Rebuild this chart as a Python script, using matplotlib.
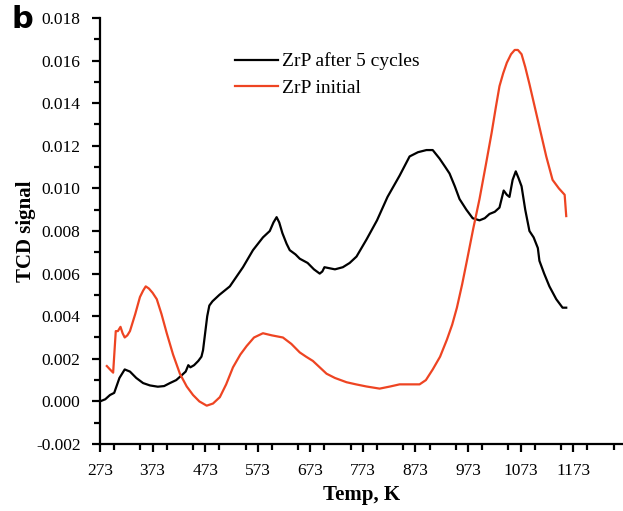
import matplotlib.pyplot as plt
from matplotlib.ticker import MultipleLocator

# TPD traces, temperature in K
temp_cycled = [273, 283, 292, 300, 310, 320, 330, 342, 355, 368, 383, 395, 406, 418, 429, 436,
               441, 445, 452, 460, 466, 469, 472, 477, 481, 487, 500, 520, 545, 564, 583, 596,
               603, 609, 614, 620, 628, 634, 645, 653, 668, 680, 691, 696, 700, 720, 735, 748,
               761, 780, 800, 820, 843, 862, 878, 894, 906, 919, 930, 938, 948, 957, 970, 982,
               995, 1005, 1014, 1024, 1033, 1041, 1047, 1052, 1058, 1064, 1069, 1075, 1082,
               1090, 1098, 1106, 1109, 1118, 1128, 1141, 1153, 1160]
tcd_cycled = [0.0000, 0.0001, 0.0003, 0.0004, 0.0011, 0.0015, 0.0014, 0.0011, 0.00086, 0.00075,
              0.00069, 0.00072, 0.00086, 0.0010, 0.00124, 0.0014, 0.0017, 0.0016, 0.0017,
              0.0019, 0.0021, 0.0024, 0.0030, 0.0040, 0.0045, 0.0047, 0.0050, 0.0054, 0.0063,
              0.0071, 0.0077, 0.0080, 0.0084, 0.00865, 0.0084, 0.0079, 0.0074, 0.0071, 0.0069,
              0.0067, 0.0065, 0.0062, 0.0060, 0.0061, 0.0063, 0.0062, 0.0063, 0.0065, 0.0068,
              0.0076, 0.0085, 0.0096, 0.0106, 0.0115, 0.0117, 0.0118, 0.0118, 0.0114, 0.0110,
              0.0107, 0.0101, 0.0095, 0.0090, 0.0086, 0.0085, 0.0086, 0.0088, 0.0089, 0.0091,
              0.0099, 0.0097, 0.0096, 0.0104, 0.0108, 0.0105, 0.0101, 0.0090, 0.0080, 0.0077,
              0.0072, 0.0066, 0.0060, 0.0054, 0.0048, 0.0044, 0.0044]

temp_initial = [286, 292, 298, 303, 307, 312, 316, 320, 325, 330, 340, 349, 355, 360, 366, 373,
                381, 390, 400, 412, 425, 438, 450, 462, 476, 488, 501, 513, 526, 540, 552, 566,
                583, 600, 621, 637, 653, 665, 678, 691, 704, 720, 742, 760, 780, 805, 825, 843,
                862, 881, 893, 906, 920, 933, 943, 952, 962, 971, 983, 995, 1007, 1018, 1026,
                1033, 1040, 1047, 1055, 1062, 1068, 1075, 1082, 1090, 1106, 1122, 1134, 1146,
                1157, 1160]
tcd_initial = [0.00166, 0.0015, 0.00135, 0.0033, 0.0033, 0.0035, 0.0032, 0.0030, 0.0031, 0.0033,
               0.0041, 0.0049, 0.0052, 0.0054, 0.0053, 0.0051, 0.0048, 0.0041, 0.0032, 0.0022,
               0.0013, 0.0007, 0.0003, 0.0000, -0.0002, -0.0001, 0.0002, 0.0008, 0.0016, 0.0022,
               0.0026, 0.0030, 0.0032, 0.0031, 0.0030, 0.0027, 0.0023, 0.0021, 0.0019, 0.0016,
               0.0013, 0.0011, 0.0009, 0.0008, 0.0007, 0.0006, 0.0007, 0.0008, 0.0008, 0.0008,
               0.0010, 0.0015, 0.0021, 0.0029, 0.0036, 0.0044, 0.0055, 0.0066, 0.0081, 0.0095,
               0.0111, 0.0126, 0.0138, 0.0148, 0.0154, 0.0159, 0.0163, 0.0165, 0.0165, 0.0163,
               0.0157, 0.0149, 0.0132, 0.0115, 0.0104, 0.0100, 0.0097, 0.0087]

x_ticks = [273, 373, 473, 573, 673, 773, 873, 973, 1073, 1173]

plt.rcParams['font.family'] = ['Liberation Serif', 'DejaVu Serif']

fig = plt.figure(figsize=(6.23, 5.11), dpi=100)
ax = fig.add_axes([100 / 623, 1 - 444 / 511, 523 / 623, 426 / 511])

ax.plot(temp_cycled, tcd_cycled, color='black', lw=1.6, label='ZrP after 5 cycles')
ax.plot(temp_initial, tcd_initial, color='#ee4422', lw=1.6, label='ZrP initial')

ax.set_xlim(273, 1268)
ax.set_ylim(-0.002, 0.018)
ax.set_xticks(x_ticks)
ax.xaxis.set_minor_locator(MultipleLocator(50))
ax.yaxis.set_major_locator(MultipleLocator(0.002))
ax.yaxis.set_minor_locator(MultipleLocator(0.001))
ax.yaxis.set_major_formatter(plt.FuncFormatter(lambda v, p: f'{v:.3f}'))

for side in ('top', 'right'):
    ax.spines[side].set_visible(False)
for side in ('left', 'bottom'):
    ax.spines[side].set_linewidth(1.6)
ax.tick_params(which='major', direction='out', length=6, width=1.6, labelsize=12.5, pad=8)
ax.tick_params(which='minor', direction='out', length=4, width=1.6)

ax.set_xlabel('Temp, K', fontsize=15, fontweight='bold', labelpad=4)
ax.set_ylabel('TCD signal', fontsize=15, fontweight='bold', labelpad=0)

ax.legend(loc='upper left', bbox_to_anchor=(0.225, 0.96), frameon=False, fontsize=14,
          handlelength=2.2, handletextpad=0.2, labelspacing=0.45)

fig.text(0.018, 0.945, 'b', fontsize=22, fontweight='bold', family='DejaVu Sans')

fig.savefig('out.png', dpi=100)
